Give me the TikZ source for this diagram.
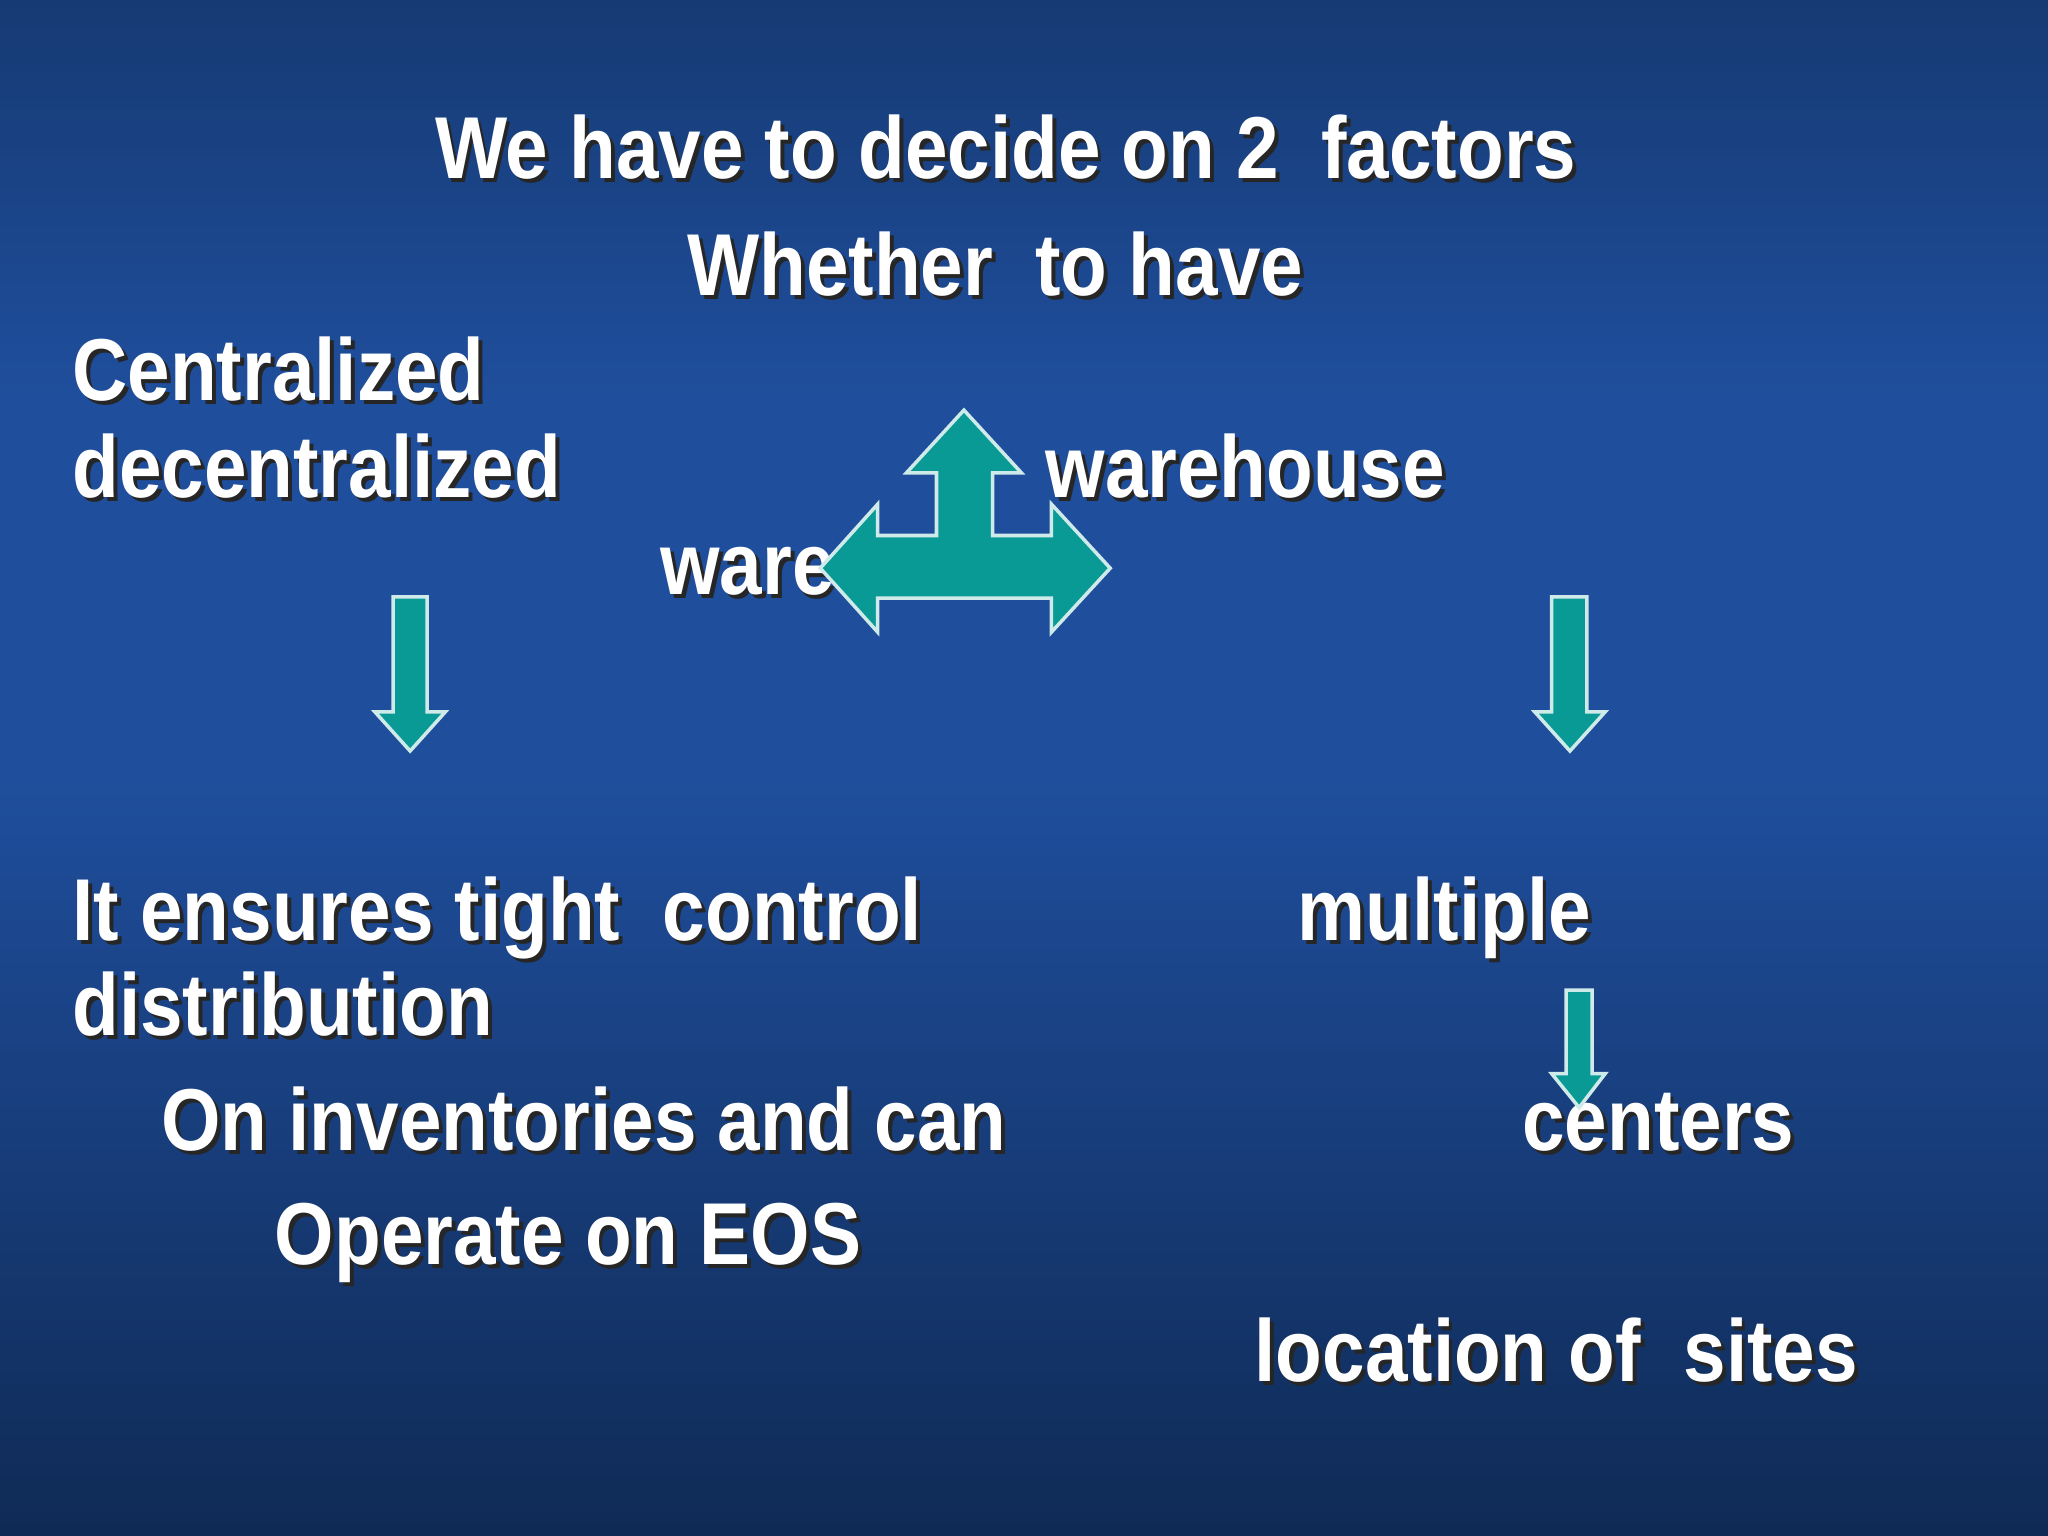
\documentclass[tikz,border=0pt]{standalone}
\usepackage{fontspec}
\usepackage{graphicx}
\setmainfont{Liberation Sans}
\definecolor{bgmid}{HTML}{1F4E9C}
\definecolor{bgtop}{HTML}{163A73}
\definecolor{bgbot}{HTML}{0F2A55}
\definecolor{teal}{HTML}{0A9A96}
\newcommand\stx[4]{%
  \node[txtshadow,anchor=#2] (#1s) at ([shift={(3,3)}]#3) {\scalebox{0.87}[1]{#4}};
  \node[txt,anchor=#2] (#1) at (#3) {\scalebox{0.87}[1]{#4}};}
\begin{document}
\begin{tikzpicture}[x=0.013061cm,y=-0.013061cm,
  txt/.style={text=white,font=\bfseries\fontsize{25}{30}\selectfont,inner sep=0pt},
  txtshadow/.style={text=black!85,font=\bfseries\fontsize{25}{30}\selectfont,inner sep=0pt},
  arr/.style={fill=teal,draw=white!80!teal,line width=1pt}]
\useasboundingbox (0,0) rectangle (1568,1176);
\shade[top color=bgtop,bottom color=bgmid,middle color=bgmid] (0,0) rectangle (1568,600);
\shade[top color=bgmid,bottom color=bgbot] (0,600) rectangle (1568,1176);
\stx{t1}{center}{770,113}{We have to decide on 2 \ factors}
\stx{t2}{center}{762,202}{Whether \ to have}
\stx{t3}{base west}{55,307}{Centralized}
\stx{t4}{base west}{55,381}{decentralized}
\stx{t5}{base west}{800,381}{warehouse}
\stx{t6}{base west}{505,455}{ware}
\stx{t7}{base west}{55,720}{It ensures tight \ control}
\stx{t8}{base west}{55,793}{distribution}
\stx{t9}{base west}{123,881}{On inventories and can}
\stx{t10}{base west}{210,968}{Operate on EOS}
\stx{t11}{base west}{993,720}{multiple}
\stx{t12}{base west}{1165,881}{centers}
\stx{t13}{base west}{960,1058}{location of \ sites}
\draw[arr] (738,314) -- (782,362) -- (760,362) -- (760,410) -- (805,410) -- (805,386) -- (850,435) -- (805,484) -- (805,458) -- (672,458) -- (672,484) -- (628,435) -- (672,386) -- (672,410) -- (717,410) -- (717,362) -- (694,362) -- cycle;
\draw[arr] (301,457) -- (327,457) -- (327,545) -- (341,545) -- (314,575) -- (287,545) -- (301,545) -- cycle;
\draw[arr] (1188,457) -- (1215,457) -- (1215,545) -- (1229,545) -- (1202,575) -- (1175,545) -- (1188,545) -- cycle;
\draw[arr] (1199,758) -- (1219,758) -- (1219,822) -- (1229,822) -- (1209,848) -- (1188,822) -- (1199,822) -- cycle;
\end{tikzpicture}
\end{document}
